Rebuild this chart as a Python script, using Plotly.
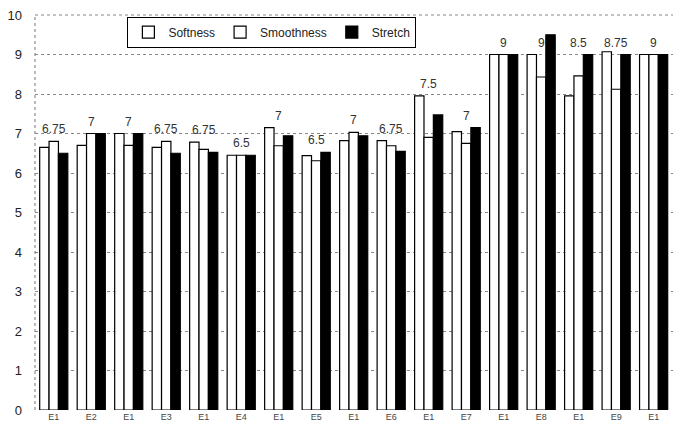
import plotly.graph_objects as go

labels = ["E1", "E2", "E1", "E3", "E1", "E4", "E1", "E5", "E1", "E6",
          "E1", "E7", "E1", "E8", "E1", "E9", "E1", "E10"]
softness = [6.65, 6.7, 7.0, 6.65, 6.78, 6.45, 7.15, 6.44, 6.82, 6.82,
            7.95, 7.05, 9.0, 9.0, 7.95, 9.07, 9.0, 9.0]
smoothness = [6.8, 7.0, 6.7, 6.8, 6.6, 6.45, 6.69, 6.31, 7.03, 6.69,
              6.9, 6.75, 9.0, 8.43, 8.46, 8.12, 9.0, 9.0]
stretch = [6.5, 7.0, 7.0, 6.5, 6.52, 6.45, 6.94, 6.52, 6.94, 6.55,
           7.47, 7.15, 9.0, 9.5, 9.0, 9.0, 9.0, 9.0]
overall = [6.75, 7, 7, 6.75, 6.75, 6.5, 7, 6.5, 7, 6.75,
           7.5, 7, 9, 9, 8.5, 8.75, 9, None]
yticks = list(range(0, 11))

xs = list(range(len(labels)))

fig = go.Figure()
fig.add_trace(go.Bar(x=xs, y=softness, name="Softness",
                     marker=dict(color="white", line=dict(color="black", width=1.2))))
fig.add_trace(go.Bar(x=xs, y=smoothness, name="Smoothness",
                     marker=dict(color="white", line=dict(color="black", width=1.2))))
fig.add_trace(go.Bar(x=xs, y=stretch, name="Stretch",
                     marker=dict(color="black", line=dict(color="black", width=1.2))))

for i, v in enumerate(overall):
    if v is None:
        continue
    top = min(max(softness[i], smoothness[i], stretch[i]), 9.0)
    fig.add_annotation(x=i, y=top, text="%g" % v, showarrow=False,
                       yanchor="bottom", yshift=3,
                       font=dict(family="Liberation Sans", size=12, color="#333"))

fig.add_shape(type="line", xref="paper", yref="paper", x0=0, x1=0, y0=0, y1=1,
              line=dict(color="#777", width=1, dash="dot"))
fig.add_shape(type="line", xref="paper", yref="paper", x0=0, x1=1, y0=1, y1=1,
              line=dict(color="#888", width=1, dash="dot"))

fig.update_layout(
    width=673, height=424,
    margin=dict(l=24, r=0, t=7, b=22),
    paper_bgcolor="white", plot_bgcolor="white",
    barmode="group", bargap=0.25, bargroupgap=0,
    font=dict(family="Liberation Sans", color="#222"),
    showlegend=True,
    legend=dict(orientation="h", x=0.143, y=0.996, xanchor="left", yanchor="top",
                bordercolor="black", borderwidth=1, bgcolor="white",
                font=dict(size=12), itemwidth=30, tracegroupgap=0,
                traceorder="normal"),
    xaxis=dict(range=[-0.5, 16.73], tickmode="array", tickvals=xs, ticktext=labels,
               showgrid=False, zeroline=False, showline=False, ticks="",
               tickfont=dict(size=9, color="#444")),
    yaxis=dict(range=[0, 10], tickmode="array", tickvals=yticks,
               showgrid=True, gridcolor="#888", griddash="dot", gridwidth=1,
               zeroline=False, showline=False, ticks="", ticklabelstandoff=12,
               ticklabeloverflow="allow",
               tickfont=dict(size=13, color="#222")),
)

fig.write_html("out.html")
